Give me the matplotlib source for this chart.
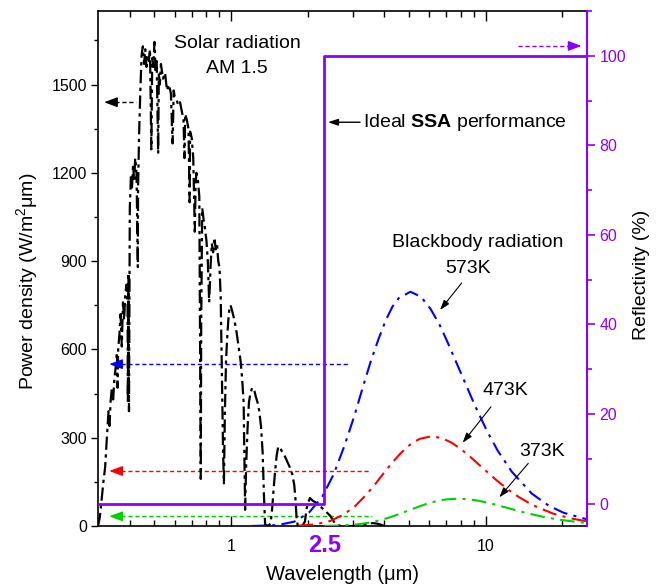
import matplotlib
matplotlib.use("Agg")
import matplotlib.pyplot as plt
import matplotlib.transforms as mtransforms
from matplotlib.ticker import FixedLocator, NullFormatter, MultipleLocator

plt.rcParams['font.family'] = ['Liberation Sans', 'DejaVu Sans']
plt.rcParams['mathtext.fontset'] = 'custom'
plt.rcParams['mathtext.rm'] = 'Liberation Sans'
plt.rcParams['mathtext.bf'] = 'Liberation Sans:bold'
plt.rcParams['mathtext.it'] = 'Liberation Sans:italic'

# ---------------- data ----------------
solar_wl = [0.300, 0.305, 0.310, 0.315, 0.320, 0.325, 0.330, 0.333, 0.336, 0.340, 0.344, 0.348,
            0.352, 0.356, 0.358, 0.360, 0.364, 0.368, 0.372, 0.376, 0.380, 0.384, 0.388, 0.392,
            0.393, 0.395, 0.397, 0.400, 0.404, 0.408, 0.412, 0.416, 0.420, 0.425, 0.430, 0.431,
            0.435, 0.440, 0.445, 0.450, 0.455, 0.460, 0.465, 0.470, 0.475, 0.480, 0.486, 0.490,
            0.495, 0.500, 0.505, 0.510, 0.517, 0.520, 0.525, 0.530, 0.540, 0.550, 0.560, 0.570,
            0.580, 0.589, 0.595, 0.600, 0.610, 0.620, 0.630, 0.640, 0.650, 0.656, 0.660, 0.670,
            0.680, 0.687, 0.690, 0.700, 0.710, 0.720, 0.725, 0.730, 0.740, 0.750, 0.760, 0.763,
            0.770, 0.780, 0.790, 0.800, 0.810, 0.820, 0.830, 0.840, 0.850, 0.860, 0.870, 0.880,
            0.890, 0.900, 0.910, 0.920, 0.930, 0.937, 0.945, 0.955, 0.965, 0.975, 0.985, 0.995,
            1.010, 1.030, 1.050, 1.070, 1.090, 1.105, 1.120, 1.135, 1.145, 1.160, 1.175, 1.190,
            1.210, 1.230, 1.250, 1.270, 1.290, 1.310, 1.330, 1.345, 1.360, 1.400, 1.430, 1.450,
            1.470, 1.490, 1.510, 1.530, 1.550, 1.580, 1.620, 1.660, 1.700, 1.740, 1.770, 1.790,
            1.810, 1.830, 1.900, 1.950, 1.980, 2.010, 2.040, 2.070, 2.100, 2.150, 2.200, 2.270,
            2.350, 2.450, 2.520, 2.580, 2.700, 3.000, 3.300, 3.450, 3.600, 3.750, 3.900, 4.000]
solar_pd = [0, 30, 90, 150, 200, 300, 390, 340, 420, 470, 430, 500,
            540, 590, 470, 600, 650, 720, 610, 760, 700, 790, 820, 760,
            420, 860, 390, 1080, 1190, 1150, 1230, 1170, 1250, 1200, 880, 1150,
            1330, 1480, 1600, 1630, 1570, 1620, 1560, 1600, 1580, 1620, 1280, 1590,
            1560, 1645, 1540, 1580, 1265, 1540, 1500, 1570, 1520, 1540, 1480, 1500,
            1470, 1300, 1480, 1460, 1450, 1430, 1440, 1410, 1380, 1250, 1400, 1380,
            1350, 1100, 1340, 1320, 1250, 1000, 1150, 1200, 1180, 1120, 160, 700,
            1080, 1040, 1010, 970, 900, 760, 880, 960, 930, 980, 940, 960,
            900, 880, 780, 520, 250, 145, 380, 560, 640, 700, 740, 750,
            730, 700, 660, 610, 560, 500, 420, 55, 200, 330, 420, 450,
            470, 465, 440, 420, 390, 340, 250, 110, 5, 0, 10, 60,
            130, 190, 240, 268, 270, 255, 240, 220, 200, 175, 140, 90,
            20, 0, 0, 15, 60, 80, 95, 90, 85, 80, 72, 62,
            50, 35, 18, 5, 0, 0, 3, 8, 10, 8, 4, 0]

bb573_wl = [1.20, 1.52, 1.77, 2.02, 2.28, 2.53, 2.78, 3.04, 3.29, 3.54, 3.80, 4.05, 4.30, 4.55,
            5.06, 5.57, 6.07, 6.58, 7.08, 8.10, 9.11, 10.12, 11.13, 12.65, 15.18, 17.7, 20.24, 25.3]
bb573_pd = [0.1, 3.0, 14.8, 45.1, 99.3, 176.5, 270, 371, 471, 561, 637, 699, 745, 774,
            796, 779, 738, 685, 625, 508, 406, 323, 257, 185, 110, 69, 45, 21.3]

bb473_wl = [1.84, 2.15, 2.45, 2.76, 3.07, 3.37, 3.68, 3.98, 4.29, 4.60, 4.90, 5.21, 5.52, 6.13,
            6.74, 7.36, 7.97, 8.58, 9.81, 11.03, 12.26, 13.49, 15.33, 18.39, 21.46, 24.52, 30.65]
bb473_pd = [1.16, 5.67, 17.3, 38.1, 67.6, 103.5, 142.1, 180.4, 215.0, 244.2, 267.8, 285.3, 296.5, 305,
            298.4, 282.9, 262.3, 239.6, 194.6, 155.6, 123.6, 98.5, 70.7, 42.2, 26.4, 17.2, 8.2]

bb373_wl = [2.33, 2.72, 3.11, 3.50, 3.89, 4.27, 4.66, 5.05, 5.44, 5.83, 6.22, 6.60, 6.99, 7.77,
            8.55, 9.32, 10.10, 10.88, 12.43, 13.99, 15.54, 17.09, 19.43, 23.31, 27.2]
bb373_pd = [0.35, 1.73, 5.27, 11.6, 20.6, 31.6, 43.3, 55.0, 65.6, 74.5, 81.7, 87.0, 90.4, 93,
            91.0, 86.3, 80.0, 73.1, 59.3, 47.4, 37.7, 30.0, 21.6, 12.9, 8.0]

ssa_wl = [0.30, 2.32, 2.32, 25.0]
ssa_refl = [0, 0, 100, 100]

x_major = [1, 10]
x_major_labels = ['1', '10']
x_minor = [0.4, 0.5, 0.6, 0.7, 0.8, 0.9, 2, 3, 4, 5, 6, 7, 8, 9, 20]
left_ticks = [0, 300, 600, 900, 1200, 1500]
right_ticks = [0, 20, 40, 60, 80, 100]

# ---------------- styling ----------------
PURPLE = '#8B00FF'
BLUE = '#0000FF'
RED = '#FF0000'
GREEN = '#00D000'
dashdot = (0, (7, 3, 1.5, 3))

fig = plt.figure(figsize=(6.56, 5.88), dpi=100)
ax = fig.add_axes([0.1494, 0.1054, 0.7454, 0.8759])
ax2 = ax.twinx()

ax.set_xscale('log')
ax.set_xlim(0.3, 25)
ax.set_ylim(0, 1750)
ax2.set_ylim(-5, 110)

ax.plot(solar_wl, solar_pd, color='black', lw=1.6, linestyle=(0, (6, 2, 1.5, 2)), zorder=3)
ax.plot(bb573_wl, bb573_pd, color=BLUE, lw=1.5, linestyle=dashdot, zorder=3)
ax.plot(bb473_wl, bb473_pd, color=RED, lw=1.5, linestyle=dashdot, zorder=3)
ax.plot(bb373_wl, bb373_pd, color=GREEN, lw=1.5, linestyle=dashdot, zorder=3)
ax2.plot(ssa_wl, ssa_refl, color=PURPLE, lw=2.0, zorder=4)

# dashed indicator arrows
def dash_arrow(axis, x0, x1, y, color):
    axis.plot([x0 * 1.04, x1], [y, y], color=color, lw=1.0, linestyle=(0, (3, 2)))
    axis.annotate('', xy=(x0, y), xytext=(x0 * 1.08, y),
                  arrowprops=dict(arrowstyle='-|>,head_length=0.8,head_width=0.3',
                                  color=color, lw=1.0, shrinkA=0, shrinkB=0))

dash_arrow(ax, 0.332, 2.93, 550, BLUE)
dash_arrow(ax, 0.332, 3.54, 187, RED)
dash_arrow(ax, 0.332, 3.57, 33, GREEN)
dash_arrow(ax, 0.317, 0.424, 1440, 'black')

# purple arrow pointing right
ax2.plot([13.4, 23.8 / 1.04], [102.2, 102.2], color=PURPLE, lw=1.0, linestyle=(0, (3, 2)))
ax2.annotate('', xy=(23.8, 102.2), xytext=(23.8 / 1.08, 102.2),
             arrowprops=dict(arrowstyle='-|>,head_length=0.8,head_width=0.3',
                             color=PURPLE, lw=1.0, shrinkA=0, shrinkB=0))

# annotations
ax.annotate('', xy=(2.40, 1372), xytext=(3.21, 1372),
            arrowprops=dict(arrowstyle='-|>,head_length=0.6,head_width=0.2', color='black',
                            lw=1.0, shrinkA=0, shrinkB=0))
ax.text(3.30, 1372, r'Ideal $\mathbf{SSA}$ performance', fontsize=14, va='center', ha='left')

ax.text(1.056, 1641, 'Solar radiation', fontsize=14, ha='center', va='center')
ax.text(1.056, 1556, 'AM 1.5', fontsize=14, ha='center', va='center')

ax.text(9.29, 962, 'Blackbody radiation', fontsize=14, ha='center', va='center')
ax.text(8.55, 875, '573K', fontsize=14, ha='center', va='center')
ax.text(11.96, 462, '473K', fontsize=14, ha='center', va='center')
ax.text(16.7, 252, '373K', fontsize=14, ha='center', va='center')

arrow_kw = dict(arrowstyle='-|>,head_length=0.6,head_width=0.2', color='black', lw=0.8,
                shrinkA=0, shrinkB=0)
ax.annotate('', xy=(6.62, 734), xytext=(8.05, 826), arrowprops=arrow_kw)
ax.annotate('', xy=(8.12, 283), xytext=(10.49, 405), arrowprops=arrow_kw)
ax.annotate('', xy=(11.31, 97.5), xytext=(14.7, 213), arrowprops=arrow_kw)

# axes / ticks
ax.xaxis.set_major_locator(FixedLocator(x_major))
ax.set_xticklabels(x_major_labels)
ax.xaxis.set_minor_locator(FixedLocator(x_minor))
ax.xaxis.set_minor_formatter(NullFormatter())
ax.set_yticks(left_ticks)
ax.yaxis.set_minor_locator(MultipleLocator(150))

ax.tick_params(axis='x', which='both', direction='in', top=True, bottom=True, labelsize=11.5, pad=9.5)
ax.tick_params(axis='x', which='major', length=7, width=1.0)
ax.tick_params(axis='x', which='minor', length=4, width=1.0)
ax.tick_params(axis='y', which='both', direction='out', left=True, right=False, labelsize=11.5, pad=3)
ax.tick_params(axis='y', which='major', length=5, width=1.0)
ax.tick_params(axis='y', which='minor', length=3, width=1.0)

ax2.set_yticks(right_ticks)
ax2.yaxis.set_minor_locator(MultipleLocator(10))
ax2.tick_params(axis='y', which='both', direction='out', colors=PURPLE, labelsize=11.5, pad=3)
ax2.tick_params(axis='y', which='major', length=6, width=1.2)
ax2.tick_params(axis='y', which='minor', length=3.5, width=1.2)

for s in ['left', 'bottom', 'top']:
    ax.spines[s].set_linewidth(1.2)
ax.spines['right'].set_visible(False)
ax2.spines['right'].set_color(PURPLE)
ax2.spines['right'].set_linewidth(1.5)
for s in ['left', 'bottom', 'top']:
    ax2.spines[s].set_visible(False)

ax.set_xlabel('Wavelength (μm)', fontsize=14.5, labelpad=8)
ax.set_ylabel(r'Power density (W/m$^2$μm)', fontsize=14, labelpad=8)
ax2.set_ylabel('Reflectivity (%)', fontsize=14, labelpad=5)
ax.yaxis.label.set_y(0.476)
ax2.yaxis.label.set_y(0.487)

# purple "2.5" marker label under axis
trans = mtransforms.blended_transform_factory(ax.transData, ax.transAxes)
ax.text(2.34, -0.038, '2.5', transform=trans, color=PURPLE, fontsize=17, fontweight='bold',
        ha='center', va='center')

fig.savefig('out.png', dpi=100)
